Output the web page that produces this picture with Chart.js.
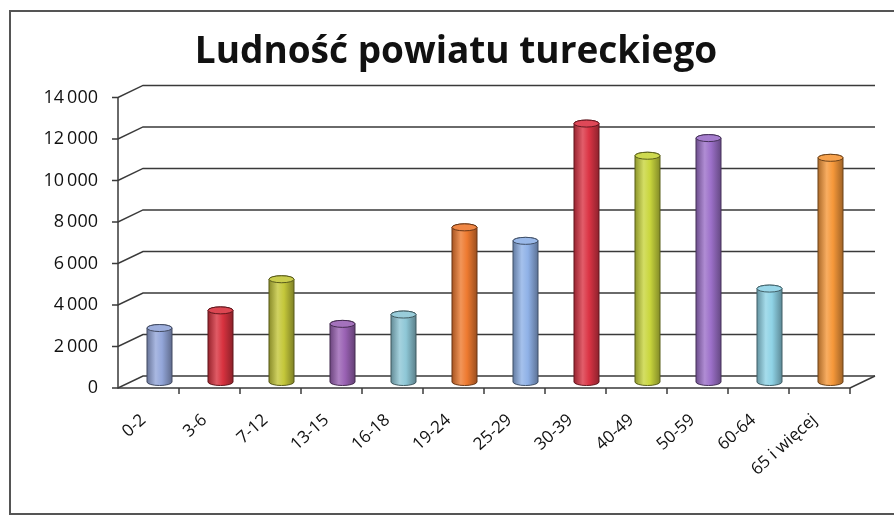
<!DOCTYPE html>
<html>
<head>
<meta charset="utf-8">
<script src="https://cdn.jsdelivr.net/npm/chart.js@4"></script>
<style>
  html, body { margin: 0; padding: 0; background: #fff; }
  #wrap { position: relative; width: 894px; height: 518px; overflow: hidden; }
  #frame { position: absolute; left: 9px; top: 10px; width: 900px; height: 505px; border: 2px solid #555; box-sizing: border-box; }
  canvas { position: absolute; left: 0; top: 0; }
</style>
</head>
<body>
<div id="wrap">
  <div id="frame"></div>
  <canvas id="chart" width="894" height="518"></canvas>
</div>
<script>
// Ludność powiatu tureckiego - age groups
const ageGroups = ['0-2', '3-6', '7-12', '13-15', '16-18', '19-24', '25-29', '30-39', '40-49', '50-59', '60-64', '65 i więcej'];
const population = [2600, 3450, 4950, 2800, 3250, 7450, 6800, 12450, 10900, 11750, 4500, 10800];
const yTicks = [0, 2000, 4000, 6000, 8000, 10000, 12000, 14000];
const barColors = ['#93a6d9', '#d8323f', '#c4c73a', '#9a62b4', '#8ec7d6', '#ee7a30',
                   '#8fb1e7', '#db3445', '#c9d63d', '#9c70c9', '#8fd3e6', '#f6983a'];

// depth of the "3D" back wall and mid-depth used for bars
const WALL = { dx: 25, dy: -12 };
const MID = { dx: 11, dy: -6 };

function shade(hex, f) {
    const n = parseInt(hex.slice(1), 16);
    let r = (n >> 16) & 255, g = (n >> 8) & 255, b = n & 255;
    if (f < 0) { r *= 1 + f; g *= 1 + f; b *= 1 + f; }
    else { r += (255 - r) * f; g += (255 - g) * f; b += (255 - b) * f; }
    return `rgb(${Math.round(r)},${Math.round(g)},${Math.round(b)})`;
}

const wallPlugin = {
    id: 'wall',
    beforeDatasetsDraw(chart) {
        const ctx = chart.ctx;
        const area = chart.chartArea;
        const y = chart.scales.y;
        ctx.save();
        ctx.strokeStyle = '#3a3a3a';
        ctx.lineWidth = 1.5;
        yTicks.forEach(v => {
            const py = y.getPixelForValue(v);
            ctx.beginPath();
            ctx.moveTo(area.left - 6, py);
            ctx.lineTo(area.left, py);
            ctx.lineTo(area.left + WALL.dx, py + WALL.dy);
            ctx.lineTo(area.right + WALL.dx, py + WALL.dy);
            ctx.stroke();
        });
        // front axis and floor
        ctx.beginPath();
        ctx.moveTo(area.left, y.getPixelForValue(14000));
        ctx.lineTo(area.left, area.bottom);
        ctx.lineTo(area.right, area.bottom);
        ctx.lineTo(area.right + WALL.dx, area.bottom + WALL.dy);
        ctx.stroke();
        const step = (area.right - area.left) / ageGroups.length;
        for (let i = 1; i <= ageGroups.length; i++) {
            const px = area.left + step * i;
            ctx.beginPath();
            ctx.moveTo(px, area.bottom);
            ctx.lineTo(px, area.bottom + 6);
            ctx.stroke();
        }
        ctx.restore();
    },
    afterDatasetsDraw(chart) {
        const ctx = chart.ctx;
        const meta = chart.getDatasetMeta(0);
        meta.data.forEach((bar, i) => {
            const w = bar.width;
            const cx = bar.x + MID.dx;
            const top = bar.y + MID.dy;
            const base = bar.base + MID.dy;
            const rx = w / 2, ry = 3.5;
            const col = barColors[i];
            ctx.save();
            const g = ctx.createLinearGradient(cx - rx, 0, cx + rx, 0);
            g.addColorStop(0, shade(col, -0.3));
            g.addColorStop(0.35, shade(col, 0.2));
            g.addColorStop(0.6, col);
            g.addColorStop(1, shade(col, -0.35));
            ctx.fillStyle = g;
            ctx.strokeStyle = shade(col, -0.55);
            ctx.lineWidth = 1;
            ctx.beginPath();
            ctx.moveTo(cx - rx, top);
            ctx.lineTo(cx - rx, base);
            ctx.ellipse(cx, base, rx, ry, 0, Math.PI, 0, true);
            ctx.lineTo(cx + rx, top);
            ctx.ellipse(cx, top, rx, ry, 0, 0, Math.PI, true);
            ctx.closePath();
            ctx.fill();
            ctx.stroke();
            ctx.beginPath();
            ctx.ellipse(cx, top, rx, ry, 0, 0, Math.PI * 2);
            ctx.fillStyle = shade(col, 0.1);
            ctx.fill();
            ctx.stroke();
            ctx.restore();
        });
    }
};

new Chart(document.getElementById('chart'), {
    type: 'bar',
    data: {
        labels: ageGroups,
        datasets: [{
            data: population,
            backgroundColor: 'rgba(0,0,0,0)',
            barPercentage: 1,
            categoryPercentage: 0.41
        }]
    },
    plugins: [wallPlugin],
    options: {
        responsive: false,
        animation: false,
        layout: { padding: { left: 18, right: 0, top: 0, bottom: 0 } },
        plugins: {
            legend: { display: false },
            tooltip: { enabled: false },
            title: {
                display: true,
                text: 'Ludność powiatu tureckiego',
                color: '#111',
                font: { family: 'Open Sans', size: 37, weight: 'bold' },
                padding: { top: 30, bottom: 23 }
            }
        },
        scales: {
            x: {
                grid: { display: false, drawTicks: false },
                border: { display: false },
                ticks: {
                    color: '#111',
                    font: { family: 'Open Sans', size: 17 },
                    minRotation: 42,
                    maxRotation: 42,
                    labelOffset: -5,
                    padding: 22
                },
                afterFit(scale) { scale.height = 130; }
            },
            y: {
                min: 0,
                max: 14000,
                grid: { display: false, drawTicks: false },
                border: { display: false },
                ticks: {
                    stepSize: 2000,
                    color: '#111',
                    padding: 20,
                    font: { family: 'Open Sans', size: 18 },
                    callback: v => v >= 1000 ? Math.floor(v / 1000) + '\u2009' + '000' : String(v)
                },
                afterFit(scale) { scale.width = 100; }
            },
            // empty right-hand strip, keeps the title centred on the whole frame
            yRight: {
                position: 'right',
                grid: { display: false, drawTicks: false },
                border: { display: false },
                ticks: { display: false },
                afterFit(scale) { scale.width = 44; }
            }
        }
    }
});
</script>
</body>
</html>
